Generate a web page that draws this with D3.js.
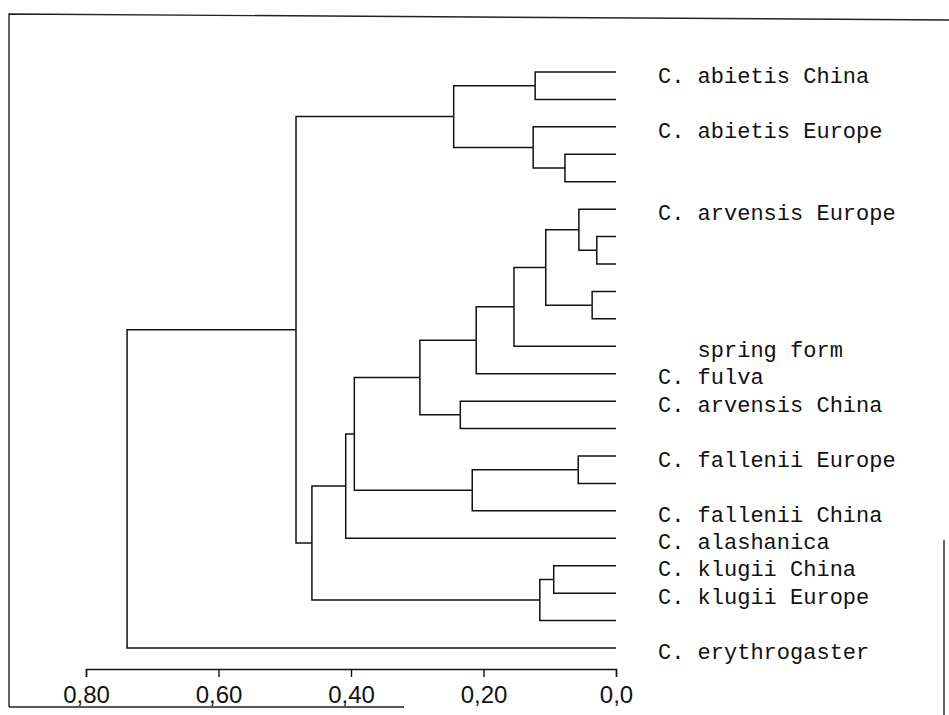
<!DOCTYPE html>
<html>
<head>
<meta charset="utf-8">
<script src="https://cdn.jsdelivr.net/npm/d3@7"></script>
<style>
  html, body { margin: 0; padding: 0; background: #fff; }
  svg { display: block; }
  .leaf-label { font-family: "Liberation Mono", "Courier New", monospace; font-size: 22px; fill: #111; white-space: pre; }
  .axis text { font-family: "Liberation Sans", Arial, sans-serif; font-size: 24px; fill: #111; }
  .axis path, .axis line { stroke: #111; stroke-width: 1.4; }
</style>
</head>
<body>
<div id="chart"></div>
<script>
// leaf labels, top to bottom (blank = unlabelled leaf)
const leafLabels = [
  'C. abietis China', '', 'C. abietis Europe', '', '',
  'C. arvensis Europe', '', '', '', '',
  '   spring form', 'C. fulva', 'C. arvensis China', '', 'C. fallenii Europe',
  '', 'C. fallenii China', 'C. alashanica', 'C. klugii China', 'C. klugii Europe',
  '', 'C. erythrogaster'
];

// linkage: each merge joins two nodes (leaf index or earlier merge = 22 + k)
const mergeLeft  = [0, 3, 2, 22, 6, 5, 8, 27, 29, 30, 12, 31, 14, 34, 33, 36, 18, 38, 37, 25, 41];
const mergeRight = [1, 4, 23, 24, 7, 26, 9, 28, 10, 11, 13, 32, 15, 16, 35, 17, 19, 20, 39, 40, 21];
const mergeHeight = [0.122, 0.077, 0.125, 0.245, 0.029, 0.056, 0.036, 0.106, 0.154, 0.211,
                     0.235, 0.296, 0.057, 0.217, 0.395, 0.408, 0.094, 0.115, 0.459, 0.483, 0.738];

const tickValues = [0.8, 0.6, 0.4, 0.2, 0];
const tickLabels = ['0,80', '0,60', '0,40', '0,20', '0,0'];

const width = 949;
const height = 715;

const svg = d3.select('#chart')
  .append('svg')
  .attr('width', width)
  .attr('height', height);

// scanned frame around the figure
svg.append('path')
  .attr('d', 'M9,707 L9,14 L949,20 M9,707 L404,707 M944,540 L944,715')
  .attr('fill', 'none')
  .attr('stroke', '#222')
  .attr('stroke-width', 1.4);

const x = d3.scaleLinear().domain([0.8, 0]).range([86, 616]);
const y = d3.scalePoint().domain(d3.range(leafLabels.length)).range([72, 648]);

// build the tree out of the linkage arrays
const nodes = leafLabels.map((name, i) => ({ id: i, name, h: 0 }));
mergeLeft.forEach((a, k) => {
  nodes.push({ id: nodes.length, h: mergeHeight[k], children: [nodes[a], nodes[mergeRight[k]]] });
});
const root = d3.hierarchy(nodes[nodes.length - 1]);

root.eachAfter(d => {
  d.px = x(d.data.h);
  if (d.children) {
    d.py = (d.children[0].py + d.children[d.children.length - 1].py) / 2;
  } else {
    d.py = y(d.data.id);
  }
});

svg.append('g')
  .selectAll('path')
  .data(root.links())
  .enter()
  .append('path')
  .attr('d', l => 'M' + l.source.px + ',' + l.source.py +
                  'V' + l.target.py + 'H' + l.target.px)
  .attr('fill', 'none')
  .attr('stroke', '#111')
  .attr('stroke-width', 1.5);

svg.append('g')
  .selectAll('text')
  .data(root.leaves().filter(d => d.data.name))
  .enter()
  .append('text')
  .attr('class', 'leaf-label')
  .attr('x', 658)
  .attr('y', d => d.py + 3)
  .attr('dy', '0.35em')
  .text(d => d.data.name);

const axis = d3.axisBottom(x)
  .tickValues(tickValues)
  .tickFormat((d, i) => tickLabels[i])
  .tickSizeInner(8)
  .tickSizeOuter(8)
  .tickPadding(9);

svg.append('g')
  .attr('class', 'axis')
  .attr('transform', 'translate(0,669)')
  .call(axis);
</script>
</body>
</html>
